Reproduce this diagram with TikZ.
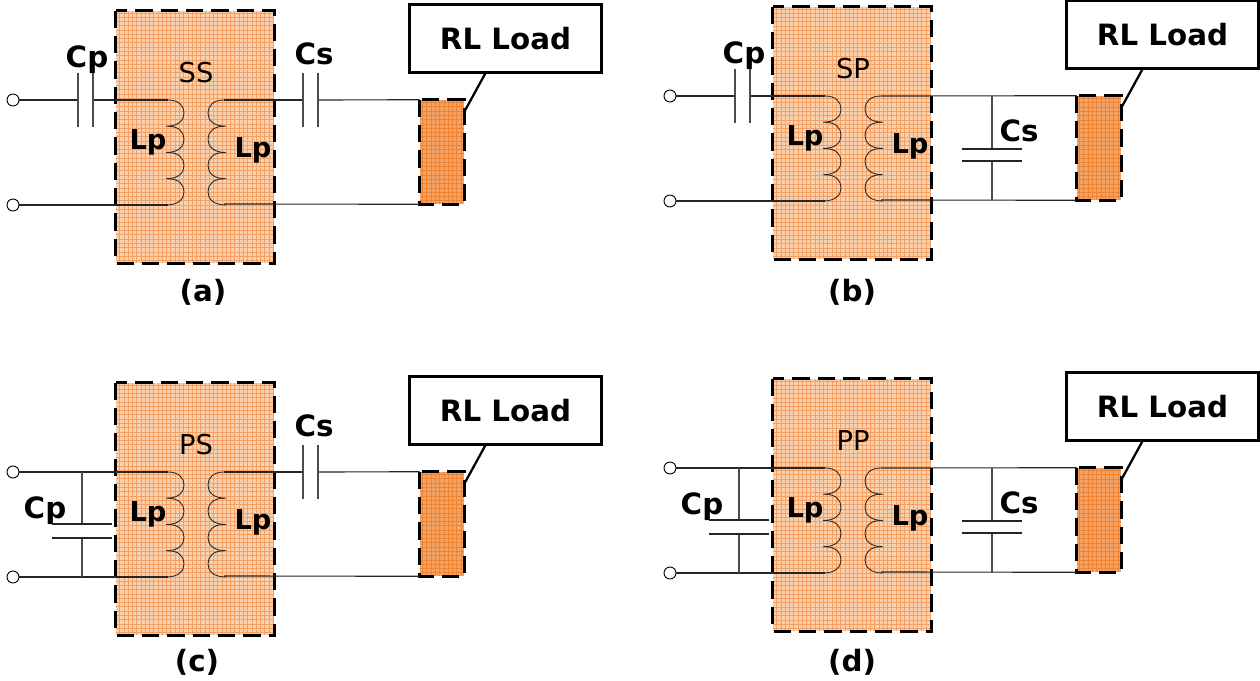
\documentclass[tikz,border=0pt]{standalone}
\usepackage{fontspec}
\setmainfont{DejaVu Sans}
\usetikzlibrary{positioning}

\definecolor{coreorange}{HTML}{FAD0AD}
\definecolor{coregrid}{HTML}{F2A063}
\definecolor{loadorange}{HTML}{F3A264}
\definecolor{loadgrid}{HTML}{EC8434}

% one series capacitor: name, wire start, wire end, x of first plate
\newcommand{\capseries}[4]{
  \coordinate (#1a) at (#4,100);
  \coordinate (#1b) at (#4+15,100);
  \draw[wire] (#2) -- (#1a);
  \draw[wire] (#1b) -- (#3);
  \draw[plate] (#4,73) -- (#4,127);
  \draw[plate] (#4+15,73) -- (#4+15,127);
}
% one shunt capacitor: name, x, y of upper plate, y of lower plate
\newcommand{\capshunt}[4]{
  \coordinate (#1a) at (#2,100);
  \coordinate (#1b) at (#2,#3);
  \coordinate (#1c) at (#2,#4);
  \coordinate (#1d) at (#2,204.5);
  \draw[plate] (#1a) -- (#1b);
  \draw[plate] (#1c) -- (#1d);
  \draw[wire] (#2-30,#3) -- (#2+30,#3);
  \draw[wire] (#2-30,#4) -- (#2+30,#4);
}
% everything the four stages share: mode text, caption, x and y of caption
\newcommand{\stage}[4]{
  \node[fill=coreorange, minimum width=118.5pt, minimum height=189pt] (core) at (195,137) {};
  \draw[gridline] (core.north west) grid (core.south east);
  \draw[dashline] (core.north west) rectangle (core.south east);
  \node[modetext] (mode) at (196,73) {#1};
  \node[bigtext] (tag) at (#3,#4) {(#2)};
  \node[bigtext, font=\bfseries\fontsize{20.5}{24}\selectfont] (lpa) at (148,142) {Lp};
  \node[bigtext, font=\bfseries\fontsize{20.5}{24}\selectfont] (lpb) at (253,150) {Lp};
  % coils
  \foreach \turn in {0,1,2,3} {
    \draw[coilline, shift={(0,26.25*\turn)}] (168,100) .. controls (179,100) and (184,106) .. (184,113)
      .. controls (184,120) and (179,126.25) .. (166,126.25);
    \draw[coilline, shift={(0,26.25*\turn)}] (224,100) .. controls (213,100) and (208,106) .. (208,113)
      .. controls (208,120) and (213,126.25) .. (226,126.25);
  }
  \coordinate (coila) at (168,100);
  \coordinate (coilb) at (168,205);
  \coordinate (coilc) at (224,100);
  \coordinate (coild) at (224,204);
  \node[terminal] (ina) at (13,100) {};
  \node[terminal] (inb) at (13,205) {};
  % load and its label
  \node[fill=loadorange, minimum width=33pt, minimum height=78pt] (load) at (442,152) {};
  \draw[gridline, draw=loadgrid] (load.north west) grid (load.south east);
  \draw[dashline] (load.north west) rectangle (load.south east);
  \node[draw, line width=1.7pt, fill=white, minimum width=144pt, minimum height=51pt, bigtext] (rl) at (505.5,38.5) {RL Load};
  \draw[line width=1.7pt] (rl.240) -- (load.61);
  \draw[wire] (inb) -- (coilb);
  \draw[wire] (coild) -- (load.south west);
}

\begin{document}
\begin{tikzpicture}[x=0.75pt, y=-0.75pt,
    wire/.style={line width=0.85pt, black!85},
    plate/.style={line width=0.85pt, black!70},
    coilline/.style={line width=0.65pt, black!85},
    gridline/.style={line width=0.3pt, coregrid, step=3.2pt},
    dashline/.style={line width=2pt, dash pattern=on 13pt off 6pt},
    terminal/.style={circle, draw, fill=white, line width=0.7pt, inner sep=0pt, minimum size=9pt},
    bigtext/.style={font=\bfseries\fontsize{22}{26}\selectfont, inner sep=0pt},
    modetext/.style={font=\fontsize{20.5}{24}\selectfont, inner sep=0pt}
  ]
  \useasboundingbox (0,0) rectangle (1260,681);

  % (a) series / series
  \begin{scope}[name prefix=a-]
    \stage{SS}{a}{203}{292}
    \capseries{cp}{ina}{coila}{78}
    \capseries{cs}{coilc}{load.north west}{303}
    \node[bigtext] (cplabel) at (87,60) {Cp};
    \node[bigtext] (cslabel) at (314,54) {Cs};
  \end{scope}

  % (b) series / parallel
  \begin{scope}[shift={(657,-4)}, name prefix=b-]
    \stage{SP}{b}{195}{296}
    \capseries{cp}{ina}{coila}{78}
    \draw[wire] (coilc) -- (load.north west);
    \capshunt{cs}{335}{153}{165}
    \node[bigtext] (cplabel) at (87,60) {Cp};
    \node[bigtext] (cslabel) at (362,135) {Cs};
  \end{scope}

  % (c) parallel / series
  \begin{scope}[shift={(0,372)}, name prefix=c-]
    \stage{PS}{c}{197}{290}
    \draw[wire] (ina) -- (coila);
    \capshunt{cp}{82}{152}{166}
    \capseries{cs}{coilc}{load.north west}{303}
    \node[bigtext] (cplabel) at (45,139) {Cp};
    \node[bigtext] (cslabel) at (314,54) {Cs};
  \end{scope}

  % (d) parallel / parallel
  \begin{scope}[shift={(657,368)}, name prefix=d-]
    \stage{PP}{d}{195}{294}
    \draw[wire] (ina) -- (coila);
    \capshunt{cp}{82}{152}{166}
    \draw[wire] (coilc) -- (load.north west);
    \capshunt{cs}{335}{153}{165}
    \node[bigtext] (cplabel) at (45,139) {Cp};
    \node[bigtext] (cslabel) at (362,135) {Cs};
  \end{scope}
\end{tikzpicture}
\end{document}
